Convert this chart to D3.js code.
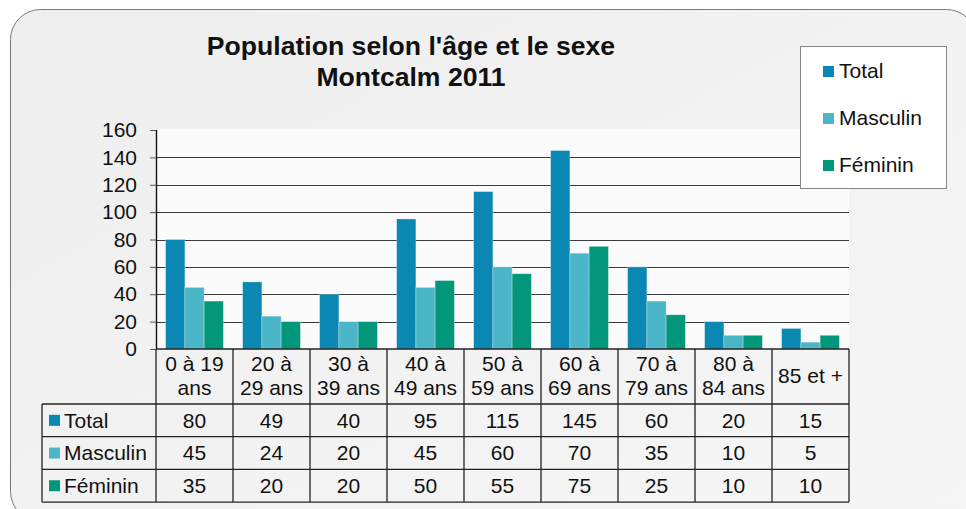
<!DOCTYPE html>
<html>
<head>
<meta charset="utf-8">
<script src="https://cdn.jsdelivr.net/npm/d3@7"></script>
<style>
  html, body { margin: 0; padding: 0; background: #ffffff; }
  svg { display: block; font-family: "Liberation Sans", Arial, sans-serif; }
</style>
</head>
<body>
<div id="chart"></div>
<script>
// --- DONNÉES ---
const categories = ["0 à 19 ans", "20 à 29 ans", "30 à 39 ans", "40 à 49 ans", "50 à 59 ans",
                    "60 à 69 ans", "70 à 79 ans", "80 à 84 ans", "85 et +"];
const headerLines = [["0 à 19", "ans"], ["20 à", "29 ans"], ["30 à", "39 ans"], ["40 à", "49 ans"],
                     ["50 à", "59 ans"], ["60 à", "69 ans"], ["70 à", "79 ans"], ["80 à", "84 ans"], ["85 et +"]];
const seriesNames = ["Total", "Masculin", "Féminin"];
const totalValues = [80, 49, 40, 95, 115, 145, 60, 20, 15];
const masculinValues = [45, 24, 20, 45, 60, 70, 35, 10, 5];
const femininValues = [35, 20, 20, 50, 55, 75, 25, 10, 10];
const yTicks = [0, 20, 40, 60, 80, 100, 120, 140, 160];

const seriesValues = [totalValues, masculinValues, femininValues];
const colors = ["#0a88b3", "#4bb6c7", "#02967a"];

const W = 966, H = 509;
const plot = { left: 156, right: 849, top: 130, bottom: 349 };
const tableLeft = 42, headerBottom = 404, rowH = 32.7;
const fs = "21px";

const svg = d3.select("#chart").append("svg")
    .attr("width", W).attr("height", H);

// fond dégradé + cadre arrondi
const defs = svg.append("defs");
const grad = defs.append("linearGradient").attr("id", "bg")
    .attr("x1", "0").attr("y1", "0").attr("x2", "1").attr("y2", "1");
grad.append("stop").attr("offset", "0%").attr("stop-color", "#eeeeee");
grad.append("stop").attr("offset", "100%").attr("stop-color", "#f6f6f6");

svg.append("rect").attr("width", W).attr("height", H).attr("fill", "#ffffff");
svg.append("rect")
    .attr("x", 10.5).attr("y", 9.5).attr("width", 966).attr("height", 512)
    .attr("rx", 30).attr("ry", 30)
    .attr("fill", "url(#bg)").attr("stroke", "#7a7a7a").attr("stroke-width", 1);

// --- ÉCHELLES ---
const x0 = d3.scaleBand().domain(categories).range([plot.left, plot.right]).padding(0);
const x1 = d3.scaleBand().domain(seriesNames).range([0, x0.bandwidth()])
    .paddingInner(0).paddingOuter(0.5);
const y = d3.scaleLinear().domain([0, 160]).range([plot.bottom, plot.top]);

// zone de tracé
svg.append("rect")
    .attr("x", plot.left).attr("y", plot.top)
    .attr("width", plot.right - plot.left).attr("height", plot.bottom - plot.top)
    .attr("fill", "#fbfbfb");
svg.append("line")
    .attr("x1", plot.left).attr("x2", plot.right)
    .attr("y1", plot.top + 0.5).attr("y2", plot.top + 0.5)
    .attr("stroke", "#ffffff").attr("stroke-width", 2);

// grille
svg.append("g").selectAll("line")
    .data(yTicks.filter(d => d > 0 && d < 160))
    .join("line")
    .attr("x1", plot.left).attr("x2", plot.right)
    .attr("y1", d => Math.round(y(d)) + 0.5).attr("y2", d => Math.round(y(d)) + 0.5)
    .attr("stroke", "#3a3a3a").attr("stroke-width", 1);

// barres
const groups = svg.append("g").selectAll("g")
    .data(categories)
    .join("g")
    .attr("transform", d => `translate(${x0(d)},0)`);

groups.selectAll("rect")
    .data((c, i) => seriesNames.map((s, j) => ({ s, j, v: seriesValues[j][i] })))
    .join("rect")
    .attr("x", d => x1(d.s))
    .attr("y", d => y(d.v))
    .attr("width", x1.bandwidth())
    .attr("height", d => y(0) - y(d.v))
    .attr("fill", d => colors[d.j])
    .attr("stroke", "rgba(255,255,255,0.35)")
    .attr("stroke-width", 0.8);

// axe Y
const yAxis = svg.append("g")
    .attr("transform", `translate(${plot.left},0)`)
    .call(d3.axisLeft(y).tickValues(yTicks).tickSize(6).tickPadding(13));
yAxis.select(".domain").attr("stroke", "#111").attr("stroke-width", 1.4)
    .attr("d", `M0.5,${plot.top}V${plot.bottom}`);
yAxis.selectAll(".tick line").attr("stroke", "#555");
yAxis.selectAll(".tick text")
    .attr("font-size", fs).attr("fill", "#111")
    .attr("font-family", "Liberation Sans, Arial, sans-serif");

// --- TABLEAU DE DONNÉES ---
const table = svg.append("g").attr("stroke", "#222").attr("stroke-width", 1.3);
const tableBottom = headerBottom + rowH * seriesNames.length;

// ligne de l'axe X / haut du tableau
table.append("line").attr("x1", plot.left).attr("x2", plot.right)
    .attr("y1", plot.bottom).attr("y2", plot.bottom);
// lignes horizontales des séries
d3.range(seriesNames.length + 1).forEach(k => {
    table.append("line").attr("x1", tableLeft).attr("x2", plot.right)
        .attr("y1", headerBottom + k * rowH).attr("y2", headerBottom + k * rowH);
});
// verticales
categories.forEach(c => {
    table.append("line").attr("x1", x0(c)).attr("x2", x0(c))
        .attr("y1", plot.bottom).attr("y2", tableBottom);
});
table.append("line").attr("x1", plot.right).attr("x2", plot.right)
    .attr("y1", plot.bottom).attr("y2", tableBottom);
table.append("line").attr("x1", tableLeft).attr("x2", tableLeft)
    .attr("y1", headerBottom).attr("y2", tableBottom);

// en-têtes
const headG = svg.append("g").attr("font-size", fs).attr("fill", "#111")
    .attr("text-anchor", "middle");
categories.forEach((c, i) => {
    const lines = headerLines[i];
    const cx = x0(c) + x0.bandwidth() / 2;
    const top = lines.length === 1 ? 383 : 371;
    lines.forEach((t, k) => {
        headG.append("text").attr("x", cx).attr("y", top + k * 24).text(t);
    });
});

// lignes de valeurs
seriesNames.forEach((s, j) => {
    const rowY = headerBottom + j * rowH;
    const baseY = rowY + rowH / 2 + 7.3;
    svg.append("rect").attr("x", 49).attr("y", rowY + rowH / 2 - 5.5)
        .attr("width", 11).attr("height", 11).attr("fill", colors[j]);
    svg.append("text").attr("x", 64).attr("y", baseY)
        .attr("font-size", fs).attr("fill", "#111").text(s);
    svg.append("g").selectAll("text")
        .data(seriesValues[j])
        .join("text")
        .attr("x", (d, i) => x0(categories[i]) + x0.bandwidth() / 2)
        .attr("y", baseY)
        .attr("text-anchor", "middle")
        .attr("font-size", fs).attr("fill", "#111")
        .text(d => d);
});

// --- TITRE ---
const title = svg.append("text").attr("text-anchor", "middle")
    .attr("font-weight", "bold").attr("font-size", "26.6px").attr("fill", "#111");
title.append("tspan").attr("x", 411).attr("y", 55).text("Population selon l'âge et le sexe");
title.append("tspan").attr("x", 411).attr("y", 86).text("Montcalm 2011");

// --- LÉGENDE ---
const legend = svg.append("g");
legend.append("rect").attr("x", 800.5).attr("y", 46.5).attr("width", 146).attr("height", 142)
    .attr("fill", "#ffffff").attr("stroke", "#888").attr("stroke-width", 1);
seriesNames.forEach((s, j) => {
    const by = 78 + j * 47;
    legend.append("rect").attr("x", 823).attr("y", by - 12)
        .attr("width", 11).attr("height", 11).attr("fill", colors[j]);
    legend.append("text").attr("x", 839).attr("y", by)
        .attr("font-size", fs).attr("fill", "#111").text(s);
});
</script>
</body>
</html>
